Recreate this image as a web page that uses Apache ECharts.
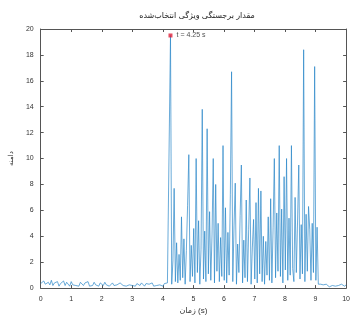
<!DOCTYPE html>
<html>
<head>
<meta charset="utf-8">
<script src="https://cdn.jsdelivr.net/npm/echarts@6/dist/echarts.min.js"></script>
<style>
  html, body { margin: 0; padding: 0; background: #fff; }
  #chart { width: 353px; height: 320px; }
</style>
</head>
<body>
<div id="chart"></div>
<script>
const quietStart = 0, quietStep = 0.05;
const quietValues = [
  0.35,0.2,0.55,0.3,0.15,0.45,0.25,0.6,0.2,0.4,0.3,0.5,0.15,0.35,0.25,0.55,0.2,0.45,0.3,0.15,
  0.5,0.25,0.4,0.2,0.35,0.15,0.45,0.3,0.2,0.4,0.25,0.5,0.15,0.3,0.2,0.45,0.25,0.35,0.15,0.4,
  0.3,0.2,0.45,0.25,0.35,0.15,0.3,0.4,0.2,0.35,0.25,0.15,0.4,0.3,0.2,0.35,0.15,0.3,0.25,0.4,
  0.2,0.3,0.15,0.35,0.25,0.2,0.4,0.3,0.15,0.35,0.2,0.3,0.25,0.4,0.15,0.3,0.2,0.35,0.25,0.3,
  0.15,0.35,0.25,0.4
];
const activeStart = 4.21, activeStep = 0.04;
const activeValues = [
  0.4,19.5,0.3,2.1,7.7,0.5,3.5,0.4,2.6,0.6,
  5.5,0.8,3.8,0.3,2.9,6.4,10.3,0.5,3.3,0.9,
  4.6,0.4,10.0,1.2,5.2,0.3,3.0,13.8,0.7,4.4,
  0.5,12.3,1.1,5.9,0.6,4.1,10.0,0.4,8.0,1.3,
  5.0,0.5,3.9,0.9,11.0,0.6,6.2,0.4,4.3,1.0,
  7.2,16.7,0.5,4.8,8.1,0.3,3.4,1.2,5.6,9.5,
  0.4,3.7,0.8,6.8,0.5,4.5,8.5,0.3,3.1,5.3,
  0.7,6.6,0.4,7.7,1.1,7.5,0.5,4.0,0.3,3.6,
  1.0,5.5,0.6,6.9,0.4,4.7,10.0,0.8,5.8,1.3,
  11.0,0.9,6.1,0.4,8.6,1.4,10.0,0.6,5.4,1.0,
  11.0,1.5,0.5,7.0,1.2,5.1,9.5,0.7,4.9,1.1,
  18.4,0.5,5.7,1.3,6.3,4.5,0.6,5.0,1.2,17.1,
  0.6,4.7,0.3,0.2,0.3,0.2
];
const tailStart = 9.25, tailStep = 0.05;
const tailValues = [0.25,0.15,0.3,0.2,0.1,0.25,0.2,0.3,0.15,0.25,0.2,0.1,0.3,0.2,0.15,0.25];

const peakTime = 4.25, peakValue = 19.5;
const peakLabel = 't = 4.25 s';

const xTicks = [0,1,2,3,4,5,6,7,8,9,10];
const yTicks = [0,2,4,6,8,10,12,14,16,18,20];

const titleText = 'مقدار برجستگی ویژگی انتخاب‌شده';
const xName = 'زمان (s)';
const yName = 'دامنه';

function stretch(start, step, vals) {
  return vals.map((v, i) => [+(start + i * step).toFixed(3), v]);
}
const signal = stretch(quietStart, quietStep, quietValues)
  .concat(stretch(activeStart, activeStep, activeValues))
  .concat(stretch(tailStart, tailStep, tailValues));

const chart = echarts.init(document.getElementById('chart'));
const fontFamily = 'Liberation Sans, DejaVu Sans, sans-serif';
const tickColor = '#333';
const lineColor = '#555';

const axisCommon = {
  type: 'value',
  axisLine: { show: true, onZero: false, lineStyle: { color: lineColor, width: 1 } },
  axisTick: { show: true, inside: true, length: 3, lineStyle: { color: lineColor } },
  splitLine: { show: false }
};

chart.setOption({
  animation: false,
  backgroundColor: '#fff',
  title: {
    text: titleText,
    left: 192, top: 7, textAlign: 'center',
    textStyle: { fontSize: 8, fontWeight: 'normal', color: '#222', fontFamily: fontFamily }
  },
  grid: { left: 38, right: 6, top: 29, bottom: 28, containLabel: false },
  xAxis: [
    Object.assign({}, axisCommon, {
      min: 0, max: 10, interval: 1,
      position: 'bottom',
      name: xName, nameLocation: 'middle', nameGap: 17,
      nameTextStyle: { fontSize: 8, color: tickColor, fontFamily: fontFamily },
      axisLabel: { fontSize: 7, color: tickColor, margin: 7, fontFamily: fontFamily,
        formatter: v => xTicks.includes(v) ? String(v) : '' }
    }),
    Object.assign({}, axisCommon, {
      min: 0, max: 10, interval: 1, position: 'top', axisLabel: { show: false }
    })
  ],
  yAxis: [
    Object.assign({}, axisCommon, {
      min: 0, max: 20, interval: 2,
      position: 'left',
      name: yName, nameLocation: 'middle', nameGap: 22,
      nameTextStyle: { fontSize: 7, color: tickColor, fontFamily: fontFamily },
      axisLabel: { fontSize: 7, color: tickColor, margin: 7, fontFamily: fontFamily,
        formatter: v => yTicks.includes(v) ? String(v) : '' }
    }),
    Object.assign({}, axisCommon, {
      min: 0, max: 20, interval: 2, position: 'right', axisLabel: { show: false }
    })
  ],
  series: [
    {
      type: 'line',
      data: signal,
      showSymbol: false,
      lineStyle: { color: '#2a86c8', width: 0.7 },
      z: 2
    },
    {
      type: 'scatter',
      data: [[peakTime, peakValue]],
      symbol: 'rect', symbolSize: 4,
      itemStyle: { color: '#e0203a' },
      label: {
        show: true, position: 'right', distance: 4,
        formatter: peakLabel,
        fontSize: 7, color: '#222', fontFamily: fontFamily
      },
      z: 3
    }
  ]
});
</script>
</body>
</html>
